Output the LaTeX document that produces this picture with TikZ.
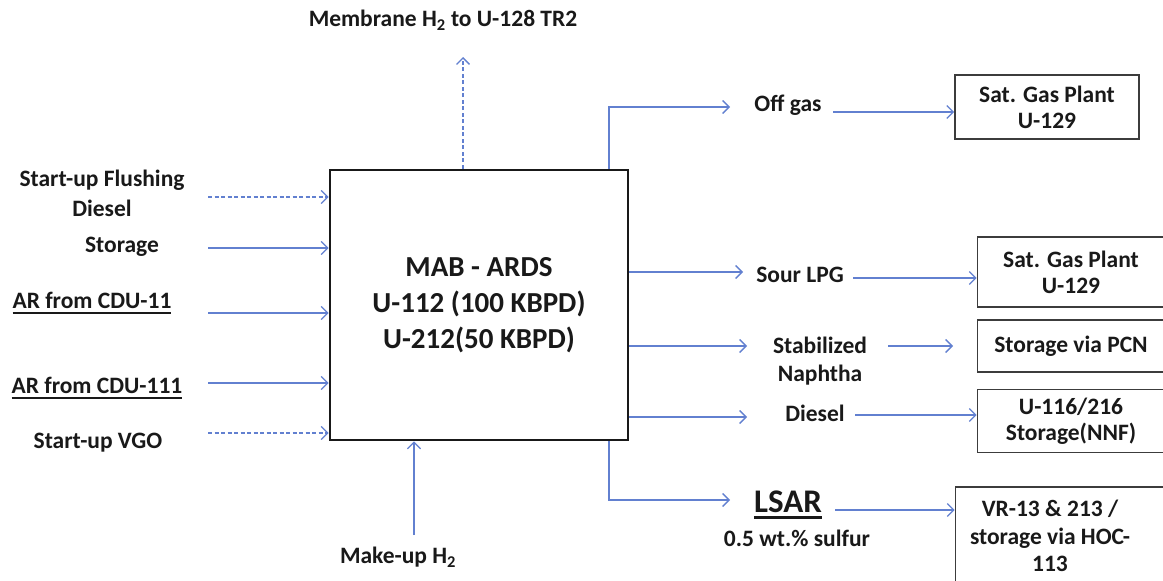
\documentclass[tikz,border=0pt]{standalone}
\usepackage{fontspec}
\setmainfont{Carlito}
\usetikzlibrary{arrows.meta}
\definecolor{flowblue}{RGB}{98,128,208}
\definecolor{ink}{RGB}{25,25,25}
\newcommand\myuline[3]{\leavevmode\setbox0\hbox{#3}\rlap{\rule[-#1]{\wd0}{#2}}\box0}
\begin{document}
\begin{tikzpicture}[x=1pt,y=-1pt,
  flow/.style={draw=flowblue,line width=1.3pt,-{Straight Barb[length=6.5pt,width=13pt,line width=1.3pt]}},
  dflow/.style={flow,line width=1.5pt,dash pattern=on 4pt off 2.5pt},
  lbl/.style={text=ink,font=\fontsize{23.5}{30}\selectfont\bfseries,align=center,inner sep=0pt},
  dest/.style={draw=ink!85,line width=1.6pt,inner sep=0pt,text=ink,align=center,
    font=\fontsize{23.5}{26}\selectfont\bfseries},
  mainbox/.style={draw=ink,line width=2.8pt,inner sep=0pt,text=ink,align=center,
    font=\fontsize{29}{36}\selectfont\bfseries}]
\useasboundingbox (0,0) rectangle (1163,581);
\fill[white] (0,0) rectangle (1163,581);

% main unit
\node[mainbox,minimum width=298,minimum height=270] (main) at (479,305)
  {MAB - ARDS\\U-112 (100 KBPD)\\U-212(50 KBPD)};

% destination boxes
\node[dest,minimum width=184,minimum height=64] (b1) at (1047,107) {Sat. Gas Plant\\U-129};
\node[dest,minimum width=187,minimum height=70] (b2) at (1071,272) {Sat. Gas Plant\\U-129};
\node[dest,minimum width=187,minimum height=52] (b3) at (1071,346) {Storage via PCN};
\node[dest,minimum width=187,minimum height=63] (b4) at (1071,421) {U-116/216\\Storage(NNF)};
\node[dest,minimum width=209,minimum height=96] (b5) at (1060,535) {};
\node[lbl,font=\fontsize{23.5}{27.5}\selectfont\bfseries] (t5) at (1050,536) {VR-13 \& 213 /\\storage via HOC-\\113};

% left feed labels
\node[lbl] (l1) at (102,193) {Start-up Flushing\\Diesel};
\node[lbl] (l2) at (122,247) {Storage};
\node[lbl] (l3) at (92,303) {\myuline{6pt}{2pt}{AR from CDU-11}};
\node[lbl] (l4) at (97,388) {\myuline{6pt}{2pt}{AR from CDU-111}};
\node[lbl] (l5) at (98,443) {Start-up VGO};

\coordinate (a1) at (208,197);
\coordinate (a2) at (208,248);
\coordinate (a3) at (208,313);
\coordinate (a4) at (208,383);
\coordinate (a5) at (208,433);
\draw[dflow] (a1) -- (a1 -| main.west);
\draw[flow] (a2) -- (a2 -| main.west);
\draw[flow] (a3) -- (a3 -| main.west);
\draw[flow] (a4) -- (a4 -| main.west);
\draw[dflow] (a5) -- (a5 -| main.west);

% top: membrane H2
\node[lbl] (mem) at (443,20) {Membrane H\textsubscript{2} to U-128 TR2};
\coordinate (mt) at (463,57);
\draw[dflow] (mt |- main.north) -- (mt);

% bottom: make-up H2
\node[lbl] (mu) at (398,557) {Make-up H\textsubscript{2}};
\coordinate (mu0) at (414,535);
\draw[flow] (mu0) -- (mu0 |- main.south);

% off gas
\coordinate (ob) at (609,107);
\coordinate (oe) at (730,107);
\draw[flow] (ob |- main.north) -- (ob) -- (oe);
\node[lbl] (og) at (788,105) {Off gas};
\coordinate (o2) at (833,112);
\draw[flow] (o2) -- (o2 -| b1.west);

% sour LPG
\coordinate (s1) at (743,272);
\draw[flow] (s1 -| main.east) -- (s1);
\node[lbl] (lpg) at (800,275) {Sour LPG};
\coordinate (s2) at (853,278);
\draw[flow] (s2) -- (s2 -| b2.west);

% stabilized naphtha
\coordinate (n1) at (747,346);
\draw[flow] (n1 -| main.east) -- (n1);
\node[lbl,font=\fontsize{23.5}{28}\selectfont\bfseries] (nap) at (820,361) {Stabilized\\Naphtha};
\coordinate (n2) at (888,346);
\coordinate (n3) at (953,346);
\draw[flow] (n2) -- (n3);

% diesel
\coordinate (d1) at (747,417);
\draw[flow] (d1 -| main.east) -- (d1);
\node[lbl] (dsl) at (815,413) {Diesel};
\coordinate (d2) at (855,415);
\draw[flow] (d2) -- (d2 -| b4.west);

% LSAR
\coordinate (lb) at (609,500);
\coordinate (le) at (730,500);
\draw[flow] (lb |- main.south) -- (lb) -- (le);
\node[lbl,font=\fontsize{33}{36}\selectfont\bfseries] (lsar) at (788,505) {\myuline{6pt}{3pt}{LSAR}};
\node[lbl] (sul) at (797,538) {0.5 wt.\% sulfur};
\coordinate (r2) at (835,510);
\draw[flow] (r2) -- (r2 -| b5.west);
\end{tikzpicture}
\end{document}
